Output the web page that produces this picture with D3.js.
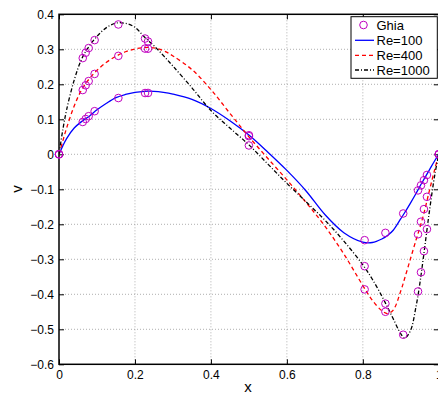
<!DOCTYPE html>
<html><head><meta charset="utf-8">
<script src="https://cdn.jsdelivr.net/npm/d3@7"></script>
<style>
html,body{margin:0;padding:0;background:#fff;overflow:hidden;}
text{font-family:"Liberation Sans",Arial,Helvetica,sans-serif;}
</style></head>
<body><svg id="chart" width="438" height="394"></svg>
<script>
// ---- data ----
const curveX = [0,0.01,0.02,0.04,0.06,0.08,0.1,0.125,0.15,0.175,0.2,0.225,0.25,0.275,0.3,0.35,0.4,0.45,0.5,0.55,0.6,0.65,0.7,0.75,0.8,0.825,0.85,0.865,0.88,0.9,0.91,0.925,0.94,0.95,0.96,0.975,0.99,1];
const re100 = [0,0.024,0.045,0.075,0.094,0.109,0.127,0.146,0.162,0.171,0.177,0.18,0.18,0.177,0.172,0.157,0.131,0.096,0.055,0.006,-0.046,-0.104,-0.172,-0.224,-0.251,-0.252,-0.242,-0.232,-0.217,-0.184,-0.167,-0.14,-0.112,-0.092,-0.073,-0.045,-0.017,0];
const re400 = [0,0.038,0.075,0.138,0.185,0.216,0.24,0.263,0.28,0.293,0.301,0.305,0.304,0.296,0.281,0.242,0.185,0.117,0.05,-0.012,-0.073,-0.137,-0.205,-0.285,-0.375,-0.417,-0.447,-0.455,-0.445,-0.39,-0.355,-0.3,-0.245,-0.21,-0.172,-0.105,-0.04,0];
const re1000 = [0,0.07,0.127,0.212,0.273,0.31,0.337,0.362,0.375,0.374,0.363,0.335,0.31,0.282,0.252,0.19,0.125,0.075,0.027,-0.028,-0.083,-0.135,-0.188,-0.248,-0.316,-0.357,-0.405,-0.437,-0.47,-0.513,-0.525,-0.505,-0.435,-0.37,-0.29,-0.165,-0.055,0];

const ghiaX = [1.0000,0.9688,0.9609,0.9531,0.9453,0.9063,0.8594,0.8047,0.5000,0.2344,0.2266,0.1563,0.0938,0.0781,0.0703,0.0625,0.0000];
const ghia100 = [0.00000,-0.05906,-0.07391,-0.08864,-0.10313,-0.16914,-0.22445,-0.24533,0.05454,0.17527,0.17507,0.16077,0.12317,0.10890,0.10091,0.09233,0.00000];
const ghia400 = [0.00000,-0.12146,-0.15663,-0.19254,-0.22847,null,-0.44993,-0.38598,0.05188,0.30174,0.30203,0.28124,0.22965,0.20920,0.19713,0.18360,0.00000];
const ghia1000 = [0.00000,-0.21388,-0.27669,-0.33714,-0.39188,-0.51550,-0.42665,-0.31966,0.02526,0.32235,0.33075,0.37095,0.32627,0.30353,0.29012,0.27485,0.00000];

const xTicks = [0,0.2,0.4,0.6,0.8,1];
const xTickLabels = ["0","0.2","0.4","0.6","0.8","1"];
const yTicks = [-0.6,-0.5,-0.4,-0.3,-0.2,-0.1,0,0.1,0.2,0.3,0.4];
const yTickLabels = ["\u22120.6","\u22120.5","\u22120.4","\u22120.3","\u22120.2","\u22120.1","0","0.1","0.2","0.3","0.4"];
const legendLabels = ["Ghia","Re=100","Re=400","Re=1000"];

// ---- layout ----
const L = 59, R = 438.8, T = 14.3, B = 364.3;
const x = d3.scaleLinear().domain([0,1]).range([L,R]);
const y = d3.scaleLinear().domain([-0.6,0.4]).range([B,T]);
const svg = d3.select("#chart");

svg.append("defs").append("clipPath").attr("id","clip")
  .append("rect").attr("x",L).attr("y",T).attr("width",R-L).attr("height",B-T);

// grid
const grid = svg.append("g").attr("stroke","#9a9a9a").attr("stroke-width",0.8).attr("stroke-dasharray","1,2");
grid.selectAll(".gx").data(xTicks.filter(d=>d>0&&d<1)).join("line")
  .attr("x1",d=>x(d)).attr("x2",d=>x(d)).attr("y1",T).attr("y2",B);
grid.selectAll(".gy").data(yTicks.filter(d=>d>-0.6&&d<0.4)).join("line")
  .attr("x1",L).attr("x2",R).attr("y1",d=>y(d)).attr("y2",d=>y(d));

// axes
function styleAxis(g){ g.select(".domain").remove(); g.selectAll("line").attr("stroke","#000"); g.selectAll("text").attr("font-size",12).attr("fill","#000"); }
svg.append("g").attr("transform",`translate(0,${B})`)
  .call(d3.axisBottom(x).tickValues(xTicks).tickFormat((d,i)=>xTickLabels[i]).tickSize(-5).tickPadding(6)).call(styleAxis);
svg.append("g").attr("transform",`translate(${L},0)`)
  .call(d3.axisLeft(y).tickValues(yTicks).tickFormat((d,i)=>yTickLabels[i]).tickSize(-5).tickPadding(5)).call(styleAxis);
svg.append("g").attr("transform",`translate(0,${T})`)
  .call(d3.axisTop(x).tickValues(xTicks).tickFormat("").tickSize(-5)).call(styleAxis);
svg.append("g").attr("transform",`translate(${R},0)`)
  .call(d3.axisRight(y).tickValues(yTicks).tickFormat("").tickSize(-5)).call(styleAxis);

svg.append("rect").attr("x",L).attr("y",T).attr("width",R-L).attr("height",B-T)
  .attr("fill","none").attr("stroke","#000").attr("stroke-width",1.5);

// lines
const line = d3.line().x(d=>x(d[0])).y(d=>y(d[1])).curve(d3.curveCatmullRom.alpha(0.5));
const series = [
  {v:re100, color:"#0000ff", dash:null},
  {v:re400, color:"#ff0000", dash:"4,3"},
  {v:re1000, color:"#000000", dash:"4,2,1,2"}
];
const lg = svg.append("g").attr("clip-path","url(#clip)");
series.forEach(s=>{
  lg.append("path").datum(curveX.map((xx,i)=>[xx,s.v[i]]))
    .attr("d",line).attr("fill","none").attr("stroke",s.color)
    .attr("stroke-width",1.3).attr("stroke-dasharray",s.dash);
});

// Ghia markers
const mColor = "#c000c0";
const pts = [];
[ghia100,ghia400,ghia1000].forEach(arr=>arr.forEach((v,i)=>{ if(v!==null) pts.push([ghiaX[i],v]); }));
svg.append("g").selectAll("circle").data(pts).join("circle")
  .attr("cx",d=>x(d[0])).attr("cy",d=>y(d[1])).attr("r",3.8)
  .attr("fill","none").attr("stroke",mColor).attr("stroke-width",1);

// axis labels
svg.append("text").attr("x",248).attr("y",392).attr("text-anchor","middle").attr("font-size",15).text("x");
svg.append("text").attr("transform","translate(22,189) rotate(-90)").attr("text-anchor","middle").attr("font-size",15).text("v");

// legend
const leg = svg.append("g");
leg.append("rect").attr("x",351).attr("y",16.7).attr("width",86.3).attr("height",61.6)
  .attr("fill","#fff").attr("stroke","#000").attr("stroke-width",1);
const rowY = [25,40.3,55.3,70];
leg.append("circle").attr("cx",363.5).attr("cy",rowY[0]).attr("r",3.8).attr("fill","none").attr("stroke",mColor);
series.forEach((s,i)=>{
  leg.append("line").attr("x1",355).attr("x2",374).attr("y1",rowY[i+1]).attr("y2",rowY[i+1])
    .attr("stroke",s.color).attr("stroke-width",1.3).attr("stroke-dasharray",s.dash);
});
legendLabels.forEach((t,i)=>{
  leg.append("text").attr("x",376.5).attr("y",rowY[i]+4.7).attr("font-size",13).text(t);
});
</script></body></html>
